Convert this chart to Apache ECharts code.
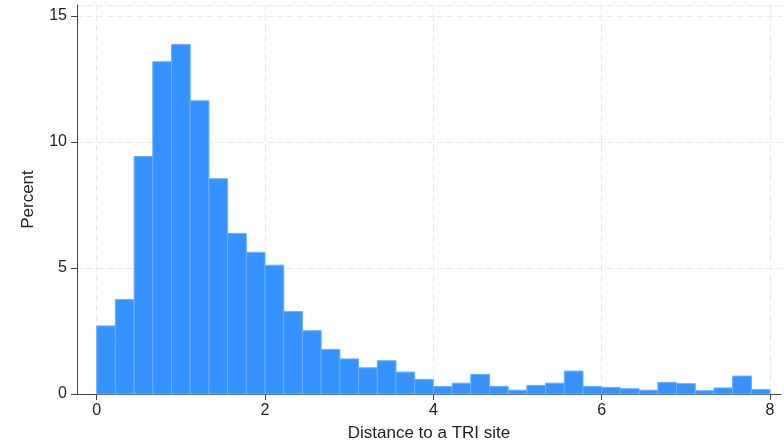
<!DOCTYPE html>
<html>
<head>
<meta charset="utf-8">
<script src="https://cdn.jsdelivr.net/npm/echarts@6/dist/echarts.min.js"></script>
<style>html,body{margin:0;padding:0;background:#fff}#c{width:784px;height:447px}</style>
</head>
<body>
<div id="c"></div>
<script>
const binStart = 0;
const binWidth = 8 / 36;
const percents = [2.70, 3.75, 9.42, 13.18, 13.86, 11.63, 8.54, 6.37, 5.62, 5.11,
  3.27, 2.51, 1.77, 1.39, 1.04, 1.32, 0.87, 0.58, 0.30, 0.43,
  0.78, 0.30, 0.15, 0.34, 0.43, 0.91, 0.30, 0.26, 0.21, 0.15,
  0.46, 0.41, 0.13, 0.24, 0.71, 0.18];
const xTicks = [0, 2, 4, 6, 8];
const yTicks = [0, 5, 10, 15];

const data = percents.map((p, i) => [binStart + i * binWidth, binStart + (i + 1) * binWidth, p]);

const chart = echarts.init(document.getElementById('c'), null, {renderer: 'canvas'});
const font = '"Liberation Sans", Arial, sans-serif';
chart.setOption({
  animation: false,
  grid: {left: 77, right: 3, top: 5, bottom: 50, containLabel: false},
  xAxis: {
    type: 'value', min: -0.234, max: 8.13,
    name: 'Distance to a TRI site', nameLocation: 'middle', nameGap: 31, nameMoveOverlap: false,
    nameTextStyle: {fontFamily: font, fontSize: 17, color: '#222'},
    axisLine: {show: true, onZero: false, lineStyle: {color: '#444', width: 1}},
    axisTick: {show: true, length: 6, customValues: xTicks, lineStyle: {color: '#444'}},
    axisLabel: {customValues: xTicks, fontFamily: font, fontSize: 16, color: '#222', margin: 9},
    splitLine: {show: true, lineStyle: {color: '#e8e8e8', type: [6, 4]}}
  },
  yAxis: {
    type: 'value', min: 0, max: 15.43, interval: 5,
    name: 'Percent', nameLocation: 'middle', nameGap: 40, nameMoveOverlap: false,
    nameTextStyle: {fontFamily: font, fontSize: 17, color: '#222'},
    axisLine: {show: true, onZero: false, lineStyle: {color: '#444', width: 1}},
    axisTick: {show: true, length: 6, lineStyle: {color: '#444'}},
    axisLabel: {fontFamily: font, fontSize: 16, color: '#222', margin: 10},
    splitLine: {show: true, lineStyle: {color: '#e8e8e8', type: [6, 4]}}
  },
  series: [{
    type: 'custom',
    data: data,
    encode: {x: [0, 1], y: 2},
    renderItem: function (params, api) {
      const p0 = api.coord([api.value(0), api.value(2)]);
      const p1 = api.coord([api.value(1), 0]);
      return {
        type: 'rect',
        shape: {x: p0[0], y: p0[1], width: p1[0] - p0[0], height: p1[1] - p0[1]},
        style: {fill: '#3592fe', stroke: '#6aafff', lineWidth: 1}
      };
    }
  }]
});
</script>
</body>
</html>
